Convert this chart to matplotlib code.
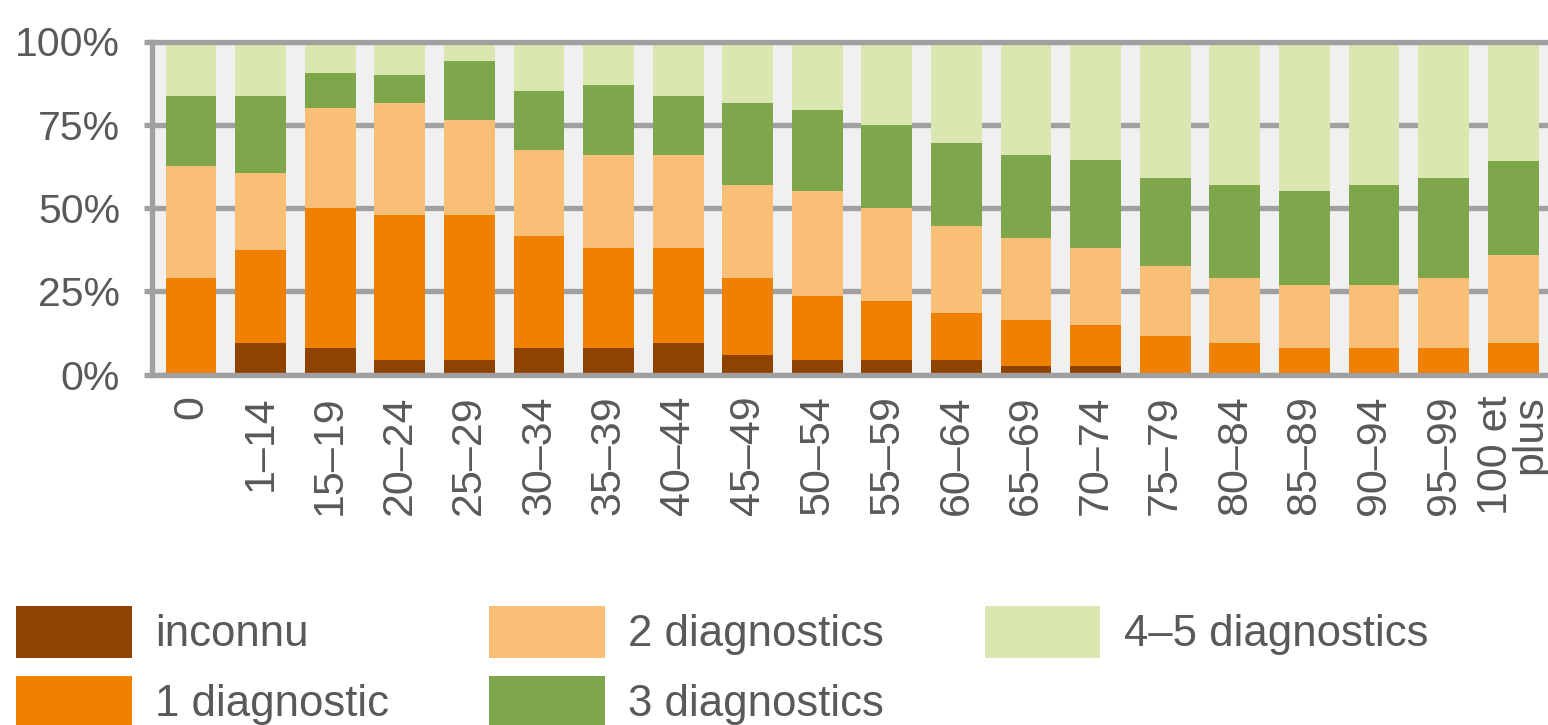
import matplotlib
matplotlib.use("Agg")
import matplotlib.pyplot as plt
import numpy as np

categories = ["0", "1–14", "15–19", "20–24", "25–29", "30–34", "35–39", "40–44",
              "45–49", "50–54", "55–59", "60–64", "65–69", "70–74", "75–79",
              "80–84", "85–89", "90–94", "95–99", "100 et\nplus"]

inconnu = [0, 9.5, 8, 4.5, 4.5, 8, 8, 9.5, 6, 4.5, 4.5, 4.5, 2.5, 2.5, 0, 0, 0, 0, 0, 0]
diag1 = [29, 28, 42, 43.5, 43.5, 33.5, 30, 28.5, 23, 19, 17.5, 14, 14, 12.5, 11.5, 9.5, 8, 8, 8, 9.5]
diag2 = [33.5, 23, 30, 33.5, 28.5, 26, 28, 28, 28, 31.5, 28, 26, 24.5, 23, 21, 19.5, 19, 19, 21, 26.5]
diag3 = [21, 23, 10.5, 8.5, 17.5, 17.5, 21, 17.5, 24.5, 24.5, 25, 25, 25, 26.5, 26.5, 28, 28, 30, 30, 28]
diag45 = [16.5, 16.5, 9.5, 10, 6, 15, 13, 16.5, 18.5, 20.5, 25, 30.5, 34, 35.5, 41, 43, 45, 43, 41, 36]

series_names = ["inconnu", "1 diagnostic", "2 diagnostics", "3 diagnostics", "4–5 diagnostics"]
series_values = [inconnu, diag1, diag2, diag3, diag45]
colors = ["#8E4300", "#F08000", "#F9BF77", "#7EA64B", "#DAE7B0"]

yticks = [0, 25, 50, 75, 100]
ytick_labels = ["0%", "25%", "50%", "75%", "100%"]

plt.rcParams['font.family'] = ['Liberation Sans', 'DejaVu Sans']
text_color = "#595959"
grid_color = "#A0A0A0"

W, H = 1548, 725
fig = plt.figure(figsize=(W / 100, H / 100), dpi=100)
left, right, top, bottom = 152, 1548, 41.5, 374.5
ax = fig.add_axes([left / W, 1 - bottom / H, (right - left) / W, (bottom - top) / H])
ax.set_facecolor("#F0F0F0")

x = np.arange(len(categories))
base = np.zeros(len(categories))
handles = []
for name, vals, c in zip(series_names, series_values, colors):
    v = np.array(vals, dtype=float)
    h = ax.bar(x, v, bottom=base, width=0.73, color=c, label=name, zorder=2, linewidth=0)
    handles.append(h)
    base += v

ax.set_xlim(-0.56, len(categories) - 0.5)
ax.set_ylim(0, 100)
ax.set_yticks(yticks)
ax.set_yticklabels(ytick_labels)
ax.set_axisbelow(True)
ax.yaxis.grid(True, color=grid_color, linewidth=3.8)
ax.xaxis.grid(False)

for side in ["top", "bottom", "left"]:
    ax.spines[side].set_color(grid_color)
    ax.spines[side].set_linewidth(3.8)
ax.spines["right"].set_visible(False)

ax.tick_params(axis='y', length=6, width=3.8, color=grid_color, pad=17,
               labelsize=29.5, labelcolor=text_color)
ax.tick_params(axis='x', length=0, pad=15, labelsize=31, labelcolor=text_color)
ax.set_xticks(x)
ax.set_xticklabels(categories, rotation=90, va='top', ha='center')
for lbl in ax.get_xticklabels():
    lbl.set_multialignment('right')
    lbl.set_linespacing(0.82)

fs_leg = 31.5
leg = fig.legend(handles=handles, labels=series_names, loc='upper left',
                 bbox_to_anchor=(16 / W, 1 - 606 / H), ncol=3, frameon=False,
                 fontsize=fs_leg, handlelength=2.65, handleheight=1.45, handletextpad=0.53,
                 columnspacing=2.29, labelspacing=0.41, borderpad=0, borderaxespad=0)
for t in leg.get_texts():
    t.set_color(text_color)

fig.savefig("out.png", dpi=100)
